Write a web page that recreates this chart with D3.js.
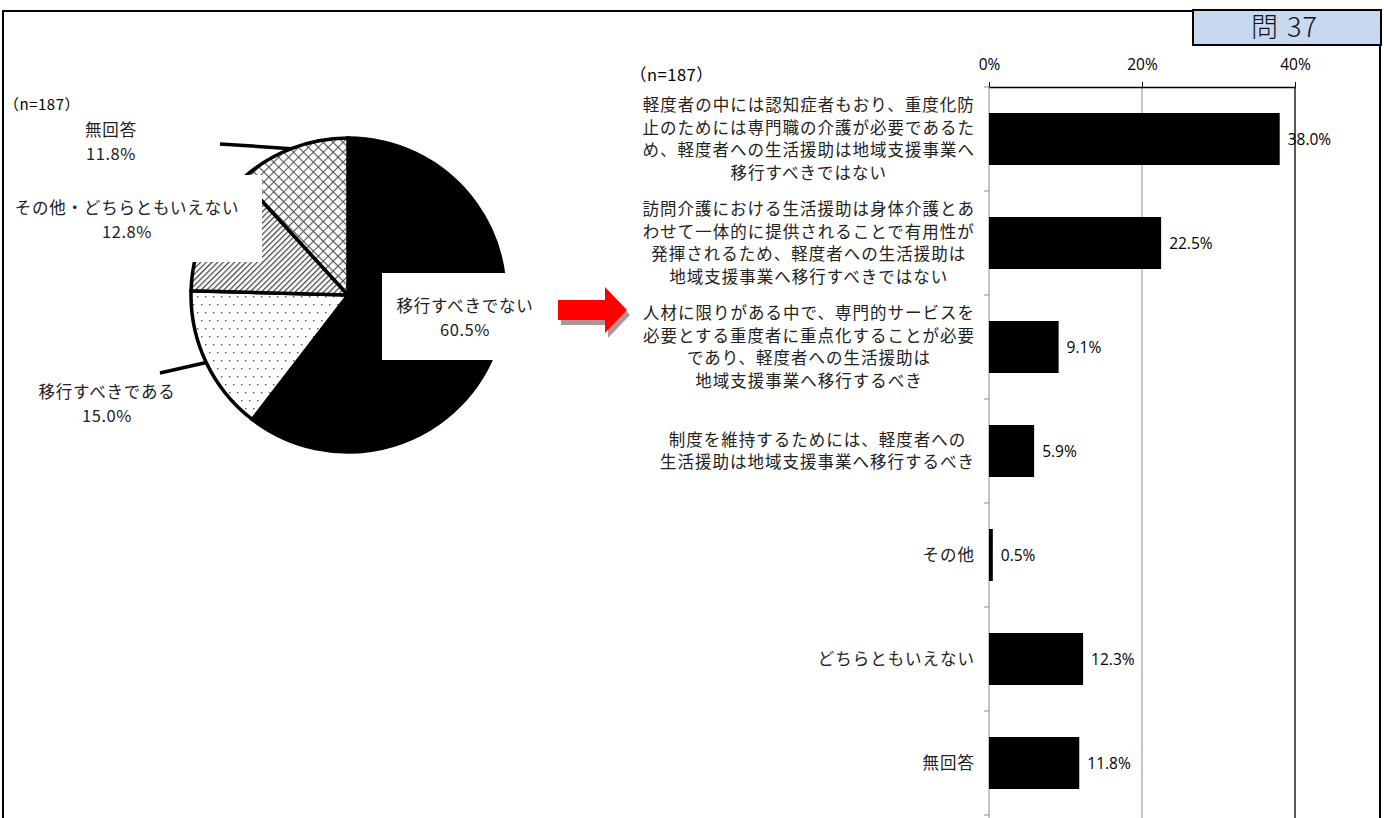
<!DOCTYPE html>
<html lang="ja">
<head>
<meta charset="utf-8">
<script src="https://cdn.jsdelivr.net/npm/d3@7"></script>
<style>
  html, body { margin: 0; padding: 0; background: #fff; }
  svg { display: block; }
  .jp { font-family: "Noto Sans CJK JP", "Noto Sans", sans-serif; }
  .num { font-family: "Open Sans", "Liberation Sans", sans-serif; }
</style>
</head>
<body>
<svg id="chart" width="1384" height="818"></svg>
<script>
// ---- data ----
const sampleNote = "（n=187）";
const questionTag = ["問", "37"];

const pieLabels = ["移行すべきでない", "移行すべきである", "その他・どちらともいえない", "無回答"];
const pieValues = [60.5, 15.0, 12.8, 11.8];

const barCategories = ["A", "B", "C", "D", "E", "F", "G"];
const barLabelLines = [
  ["軽度者の中には認知症者もおり、重度化防", "止のためには専門職の介護が必要であるた", "め、軽度者への生活援助は地域支援事業へ", "移行すべきではない"],
  ["訪問介護における生活援助は身体介護とあ", "わせて一体的に提供されることで有用性が", "発揮されるため、軽度者への生活援助は", "地域支援事業へ移行すべきではない"],
  ["人材に限りがある中で、専門的サービスを", "必要とする重度者に重点化することが必要", "であり、軽度者への生活援助は", "地域支援事業へ移行するべき"],
  ["制度を維持するためには、軽度者への", "生活援助は地域支援事業へ移行するべき"],
  ["その他"],
  ["どちらともいえない"],
  ["無回答"]
];
const barValues = [38.0, 22.5, 9.1, 5.9, 0.5, 12.3, 11.8];
const axisTicks = [0, 20, 40];

// ---- setup ----
const svg = d3.select("#chart");
const defs = svg.append("defs");

// fill patterns for the pie
const cross = defs.append("pattern").attr("id", "pat-cross")
  .attr("patternUnits", "userSpaceOnUse").attr("width", 7).attr("height", 7)
  .attr("patternTransform", "rotate(45)");
cross.append("rect").attr("width", 7).attr("height", 7).attr("fill", "#fff");
cross.append("line").attr("x1", 0).attr("y1", 0.5).attr("x2", 7).attr("y2", 0.5).attr("stroke", "#555").attr("stroke-width", 1.2);
cross.append("line").attr("x1", 0.5).attr("y1", 0).attr("x2", 0.5).attr("y2", 7).attr("stroke", "#555").attr("stroke-width", 1.2);

const hatch = defs.append("pattern").attr("id", "pat-hatch")
  .attr("patternUnits", "userSpaceOnUse").attr("width", 4).attr("height", 4)
  .attr("patternTransform", "rotate(45)");
hatch.append("rect").attr("width", 4).attr("height", 4).attr("fill", "#fff");
hatch.append("line").attr("x1", 0.6).attr("y1", 0).attr("x2", 0.6).attr("y2", 4).attr("stroke", "#444").attr("stroke-width", 1.3);

const dots = defs.append("pattern").attr("id", "pat-dots")
  .attr("patternUnits", "userSpaceOnUse").attr("width", 8).attr("height", 16);
dots.append("rect").attr("width", 8).attr("height", 16).attr("fill", "#fff");
dots.append("rect").attr("x", 1).attr("y", 1).attr("width", 1.4).attr("height", 1.4).attr("fill", "#555");
dots.append("rect").attr("x", 5).attr("y", 9).attr("width", 1.4).attr("height", 1.4).attr("fill", "#555");

const sliceFills = ["#000", "url(#pat-dots)", "url(#pat-hatch)", "url(#pat-cross)"];

// ---- outer frame and question tag ----
svg.append("rect").attr("x", 3).attr("y", 11).attr("width", 1377).attr("height", 830)
  .attr("fill", "none").attr("stroke", "#000").attr("stroke-width", 2);
svg.append("rect").attr("x", 1193).attr("y", 10).attr("width", 188).attr("height", 35)
  .attr("fill", "#c6d9f1").attr("stroke", "#000").attr("stroke-width", 2);
const tag = svg.append("text").attr("class", "jp").attr("x", 1251).attr("y", 37)
  .attr("font-size", 27).attr("font-weight", 300).attr("fill", "#111");
tag.append("tspan").text(questionTag[0]);
tag.append("tspan").attr("dx", 9).attr("letter-spacing", 1).text(questionTag[1]);

// ---- pie ----
const cx = 348, cy = 295, R = 157;
const pieG = svg.append("g").attr("transform", `translate(${cx},${cy})`);
const pie = d3.pie().sort(null).value(d => d)(pieValues);
const arc = d3.arc().innerRadius(0).outerRadius(R);
pieG.selectAll("path.slice").data(pie).join("path")
  .attr("class", "slice")
  .attr("d", arc)
  .attr("fill", (d, i) => sliceFills[i])
  .attr("stroke", "#000").attr("stroke-width", 3.5).attr("stroke-linejoin", "miter");

// white label boxes that sit over the pie
svg.append("rect").attr("x", 382).attr("y", 273).attr("width", 165).attr("height", 87).attr("fill", "#fff");
svg.append("rect").attr("x", 5).attr("y", 175).attr("width", 257).attr("height", 87).attr("fill", "#fff");

// leader lines from label to slice edge
const edgeArc = d3.arc().innerRadius(R).outerRadius(R);
const leaders = [
  { slice: 3, from: [220, 144] },
  { slice: 1, from: [160, 373] }
];
leaders.forEach(l => {
  const c = edgeArc.centroid(pie[l.slice]);
  svg.append("line")
    .attr("x1", l.from[0]).attr("y1", l.from[1])
    .attr("x2", cx + c[0]).attr("y2", cy + c[1])
    .attr("stroke", "#000").attr("stroke-width", 3.5);
});

// pie labels
const pieLabelPos = [
  [465, 312], // 移行すべきでない
  [107, 398], // 移行すべきである
  [127, 214], // その他・どちらともいえない
  [111, 136]  // 無回答
];
pie.forEach((d, i) => {
  const t = svg.append("text").attr("class", "jp")
    .attr("text-anchor", "middle").attr("font-size", 16.5).attr("fill", "#222")
    .attr("letter-spacing", 0.8);
  t.append("tspan").attr("x", pieLabelPos[i][0]).attr("y", pieLabelPos[i][1]).text(pieLabels[i]);
  t.append("tspan").attr("x", pieLabelPos[i][0]).attr("y", pieLabelPos[i][1] + 24)
    .attr("letter-spacing", 0.5)
    .text(pieValues[i].toFixed(1) + "%");
});

svg.append("text").attr("class", "jp").attr("x", 4).attr("y", 110)
  .attr("font-size", 15).attr("letter-spacing", 0.5).attr("fill", "#000").text(sampleNote);

// ---- arrow between the two charts ----
const arrowPath = (x, y) => {
  const p = d3.path();
  p.moveTo(x, y - 10); p.lineTo(x + 47, y - 10); p.lineTo(x + 47, y - 23);
  p.lineTo(x + 69, y); p.lineTo(x + 47, y + 23); p.lineTo(x + 47, y + 10);
  p.lineTo(x, y + 10); p.closePath();
  return p.toString();
};
svg.append("path").attr("d", arrowPath(561, 315)).attr("fill", "#b39494");
svg.append("path").attr("d", arrowPath(558, 310)).attr("fill", "#ff0000");

// ---- bar chart ----
const plotTop = 87, plotBottom = 815;
const x = d3.scaleLinear().domain([0, 40]).range([989, 1295]);
const y = d3.scaleBand().domain(barCategories).range([plotTop, plotBottom])
  .paddingInner(0.5).paddingOuter(0.25);

// vertical reference lines
svg.append("line").attr("x1", x(20)).attr("x2", x(20)).attr("y1", plotTop).attr("y2", 818)
  .attr("stroke", "#8c8c8c").attr("stroke-width", 1);
svg.append("line").attr("x1", x(40)).attr("x2", x(40)).attr("y1", plotTop).attr("y2", 818)
  .attr("stroke", "#000").attr("stroke-width", 1.3);

// left category axis
svg.append("line").attr("x1", x(0)).attr("x2", x(0)).attr("y1", plotTop).attr("y2", 818)
  .attr("stroke", "#8c8c8c").attr("stroke-width", 1);
const boundaries = d3.range(barCategories.length + 1).map(i => plotTop + i * y.step());
svg.selectAll("line.ytick").data(boundaries).join("line").attr("class", "ytick")
  .attr("x1", x(0) - 5).attr("x2", x(0)).attr("y1", d => d).attr("y2", d => d)
  .attr("stroke", "#8c8c8c").attr("stroke-width", 1);

// top value axis
const xAxis = svg.append("g").attr("transform", `translate(0,${plotTop})`)
  .call(d3.axisTop(x).tickValues(axisTicks).tickFormat(d => d + "%")
    .tickSizeInner(5).tickSizeOuter(0).tickPadding(12));
xAxis.attr("font-size", null).attr("font-family", null);
xAxis.select(".domain").attr("stroke", "#000").attr("stroke-width", 1.3);
xAxis.selectAll(".tick line").attr("stroke", "#000");
xAxis.selectAll(".tick text").attr("class", "num")
  .style("font-size", "15.5px").attr("fill", "#000");

// bars
svg.selectAll("rect.bar").data(barValues).join("rect").attr("class", "bar")
  .attr("x", x(0)).attr("y", (d, i) => y(barCategories[i]))
  .attr("width", d => x(d) - x(0)).attr("height", y.bandwidth())
  .attr("fill", "#000");

// value labels
svg.selectAll("text.val").data(barValues).join("text").attr("class", "val num")
  .attr("x", d => x(d) + 8)
  .attr("y", (d, i) => y(barCategories[i]) + y.bandwidth() / 2)
  .attr("dy", "0.36em").style("font-size", "15.5px").attr("fill", "#000")
  .text(d => d.toFixed(1) + "%");

// category labels: lines centred within a block whose right edge is fixed
const labelRight = 975, lineH = 22.5;
barLabelLines.forEach((lines, i) => {
  const mid = y(barCategories[i]) + y.bandwidth() / 2;
  const g = svg.append("g");
  const texts = lines.map((s, k) => g.append("text").attr("class", "jp")
    .attr("font-size", 16.5).attr("letter-spacing", 1).attr("fill", "#222")
    .attr("text-anchor", "middle")
    .attr("y", mid + (k - (lines.length - 1) / 2) * lineH).attr("dy", "0.36em")
    .text(s));
  const w = d3.max(texts, t => t.node().getComputedTextLength());
  texts.forEach(t => t.attr("x", labelRight - w / 2));
});

svg.append("text").attr("class", "jp").attr("x", 630).attr("y", 81)
  .attr("font-size", 16.5).attr("letter-spacing", 0.5).attr("fill", "#000").text(sampleNote);
</script>
</body>
</html>
